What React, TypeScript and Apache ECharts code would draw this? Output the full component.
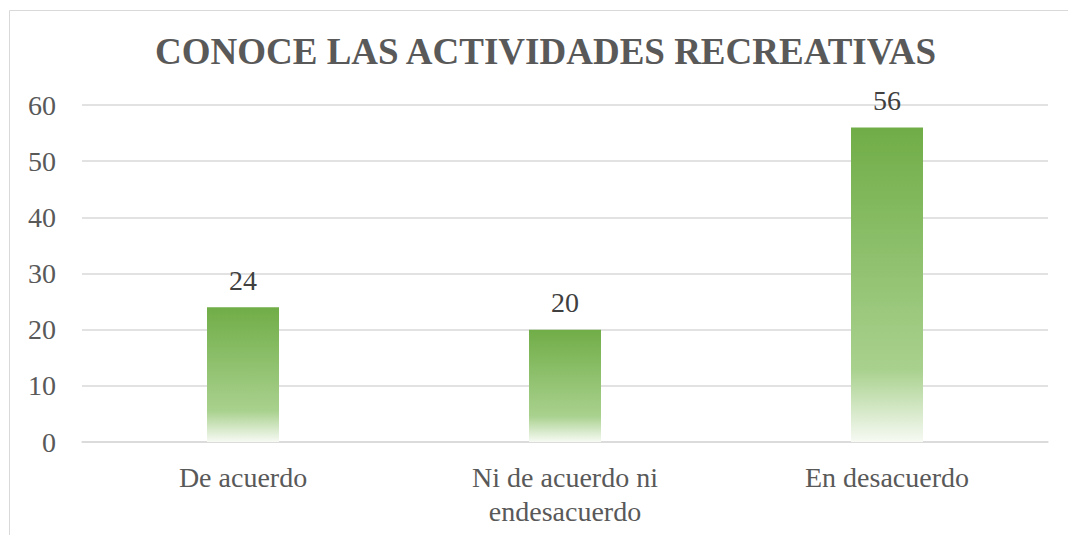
import React, { useEffect, useRef } from "react";
import * as echarts from "echarts";

const categories = ["De acuerdo", "Ni de acuerdo ni\nendesacuerdo", "En desacuerdo"];
const values = [24, 20, 56];
const titleText = "CONOCE LAS ACTIVIDADES RECREATIVAS";

export default function App() {
  const ref = useRef<HTMLDivElement>(null);
  useEffect(() => {
    const chart = echarts.init(ref.current!, null, { renderer: "svg" });
    const font = "Liberation Serif";
    chart.setOption({
      animation: false,
      backgroundColor: "#ffffff",
      title: {
        text: titleText,
        left: 150,
        top: 28,
        textStyle: { fontFamily: font, fontSize: 37, fontWeight: "bold", color: "#595959" },
      },
      graphic: [
        {
          type: "rect",
          shape: { x: 9.5, y: 10.5, width: 1100, height: 600 },
          style: { fill: "none", stroke: "#D9D9D9", lineWidth: 1 },
          silent: true,
        },
      ],
      grid: { left: 82, right: 20, top: 105, bottom: 93, containLabel: false },
      xAxis: {
        type: "category",
        data: categories,
        axisLine: { show: true, lineStyle: { color: "#D9D9D9", width: 1.5 } },
        axisTick: { show: false },
        axisLabel: {
          fontFamily: font,
          fontSize: 28,
          color: "#595959",
          margin: 18,
          lineHeight: 34,
          interval: 0,
        },
      },
      yAxis: {
        type: "value",
        min: 0,
        max: 60,
        interval: 10,
        axisLine: { show: false },
        axisTick: { show: false },
        splitLine: { lineStyle: { color: "#D9D9D9", width: 1.5 } },
        axisLabel: { fontFamily: font, fontSize: 28, color: "#595959", margin: 26 },
      },
      series: [
        {
          type: "bar",
          data: values,
          barWidth: 72,
          itemStyle: {
            color: {
              type: "linear",
              x: 0,
              y: 0,
              x2: 0,
              y2: 1,
              colorStops: [
                { offset: 0, color: "#70AD47" },
                { offset: 0.77, color: "#A9D18E" },
                { offset: 1, color: "#F7FAF4" },
              ],
            },
          },
          label: {
            show: true,
            position: "top",
            distance: 13,
            fontFamily: font,
            fontSize: 28,
            color: "#404040",
          },
        },
      ],
    });
    return () => chart.dispose();
  }, []);
  return (
    <div
      ref={ref}
      style={{ position: "fixed", left: 0, top: 0, width: 1068, height: 535 }}
    />
  );
}
